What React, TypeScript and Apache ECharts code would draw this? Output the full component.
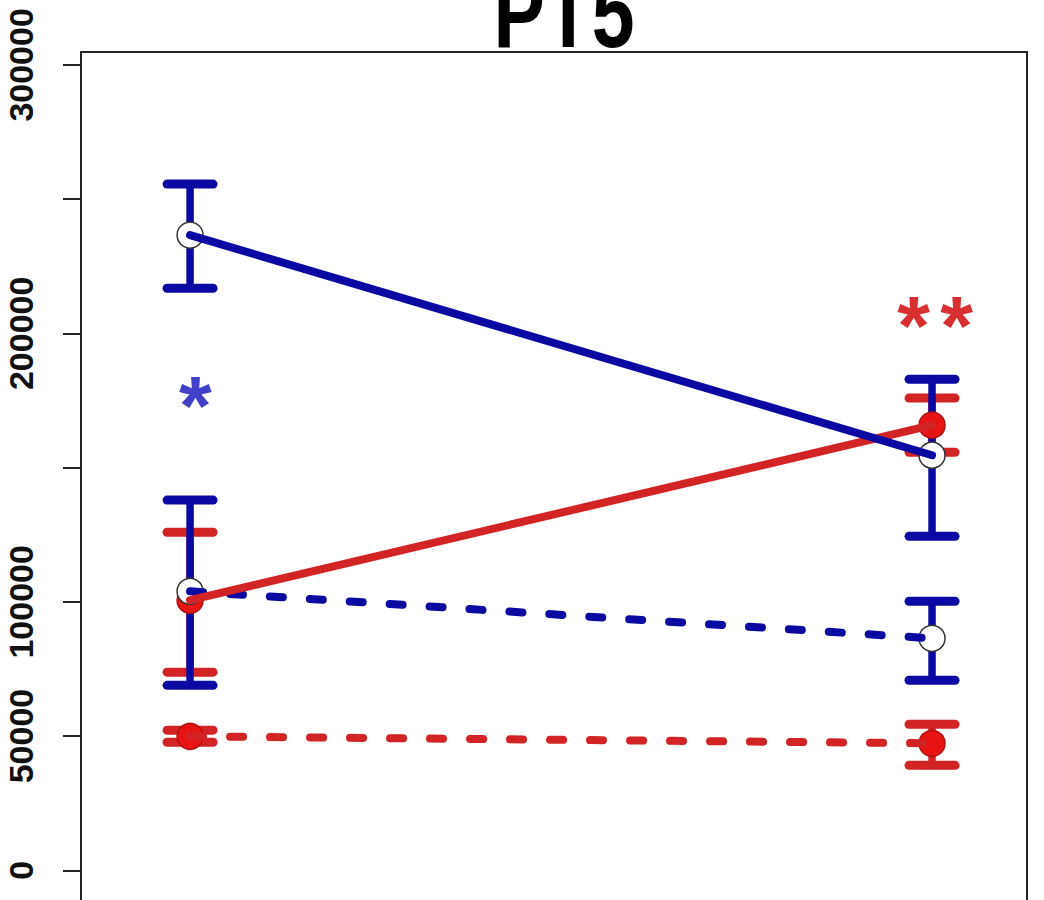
import React, { useEffect, useRef } from 'react';
import * as echarts from 'echarts';

// ---- data ----
const groups = [1, 2];
const blueSolidMean = [236600, 154600];
const blueSolidLow = [216800, 124400];
const blueSolidHigh = [255600, 182900];

const redSolidMean = [100600, 165800];
const redSolidLow = [73800, 155700];
const redSolidHigh = [125900, 175900];

const blueDashMean = [103900, 86400];
const blueDashLow = [68900, 70800];
const blueDashHigh = [137900, 100200];

const redDashMean = [49900, 47300];
const redDashLow = [47700, 39100];
const redDashHigh = [52200, 54400];

const yTicks = [0, 50000, 100000, 150000, 200000, 250000, 300000];
const yLabels = [0, 50000, 100000, 200000, 300000];
const titleText = 'PT5';

const blueStars = [[1.007, 177000]];
const redStars = [[1.975, 206800], [2.033, 206800]];

// ---- styles ----
const BLUE = '#0a0aa2';
const RED = '#d22424';
const RED_FILL = '#e81414';
const FONT = '"Liberation Sans", Arial, sans-serif';

function errSeries(low: number[], high: number[], color: string) {
  return {
    type: 'custom',
    silent: true,
    data: groups.map((g, i) => [g, low[i], high[i]]),
    encode: { x: 0, y: [1, 2] },
    renderItem: (_p: any, api: any) => {
      const x = api.value(0);
      const pLo = api.coord([x, api.value(1)]);
      const pHi = api.coord([x, api.value(2)]);
      const hw = 23;
      const st = { stroke: color, lineWidth: 7.5, lineCap: 'round' };
      const cst = { stroke: color, lineWidth: 9, lineCap: 'round' };
      return {
        type: 'group',
        children: [
          { type: 'line', shape: { x1: pLo[0], y1: pLo[1], x2: pHi[0], y2: pHi[1] }, style: st },
          { type: 'line', shape: { x1: pLo[0] - hw, y1: pLo[1], x2: pLo[0] + hw, y2: pLo[1] }, style: cst },
          { type: 'line', shape: { x1: pHi[0] - hw, y1: pHi[1], x2: pHi[0] + hw, y2: pHi[1] }, style: cst },
        ],
      };
    },
  };
}

function lineSeries(mean: number[], color: string, dashed: boolean) {
  return {
    type: 'line',
    silent: true,
    symbol: 'none',
    data: groups.map((g, i) => [g, mean[i]]),
    lineStyle: {
      color,
      width: 8,
      type: dashed ? [13, 27] : 'solid',
      cap: 'round',
    },
  };
}

function pointSeries(means: number[][], fill: string, border: string) {
  return {
    type: 'scatter',
    silent: true,
    symbol: 'circle',
    symbolSize: 26,
    data: means.flatMap((m) => groups.map((g, i) => [g, m[i]])),
    itemStyle: { color: fill, borderColor: border, borderWidth: 1.5, opacity: 1 },
  };
}

function starSeries(pts: number[][], color: string) {
  return {
    type: 'custom',
    silent: true,
    data: pts,
    encode: { x: 0, y: 1 },
    renderItem: (_p: any, api: any) => {
      const p = api.coord([api.value(0), api.value(1)]);
      const fs = 84;
      return {
        type: 'text',
        x: p[0],
        y: p[1] + fs * 0.13,
        style: {
          text: '*',
          fill: color,
          font: `bold ${fs}px ${FONT}`,
          align: 'center',
          verticalAlign: 'middle',
        },
      };
    },
  };
}

export default function App() {
  const ref = useRef<HTMLDivElement>(null);
  useEffect(() => {
    if (!ref.current) return;
    const chart = echarts.init(ref.current, undefined, { renderer: 'svg' });
    chart.setOption({
      animation: false,
      backgroundColor: '#ffffff',
      grid: {
        left: 81,
        right: 17,
        top: 52,
        bottom: -24,
        show: true,
        borderColor: '#222',
        borderWidth: 2,
        backgroundColor: 'transparent',
        containLabel: false,
        outerBoundsMode: 'none',
      },
      xAxis: {
        type: 'value',
        min: 0.853,
        max: 2.128,
        show: false,
      },
      yAxis: {
        type: 'value',
        min: -20000,
        max: 304800,
        splitLine: { show: false },
        axisLine: { show: false },
        axisTick: {
          show: true,
          length: 18,
          lineStyle: { color: '#222', width: 2 },
          customValues: yTicks,
        },
        axisLabel: {
          show: true,
          rotate: 90,
          margin: 43,
          fontSize: 34,
          fontWeight: 'bold',
          fontFamily: FONT,
          color: '#111',
          customValues: yLabels,
          formatter: (v: number) => String(v),
        },
      },
      graphic: [
        {
          type: 'text',
          x: 564,
          y: 47,
          scaleY: 1.3,
          style: {
            x: 0,
            y: -0.3465 * 77,
            text: titleText,
            font: `bold 77px ${FONT}`,
            fill: '#000',
            align: 'center',
            verticalAlign: 'middle',
          },
        },
      ],
      series: [
        errSeries(redSolidLow, redSolidHigh, RED),
        errSeries(redDashLow, redDashHigh, RED),
        errSeries(blueSolidLow, blueSolidHigh, BLUE),
        errSeries(blueDashLow, blueDashHigh, BLUE),
        lineSeries(blueDashMean, BLUE, true),
        lineSeries(redDashMean, RED, true),
        lineSeries(redSolidMean, RED, false),
        lineSeries(blueSolidMean, BLUE, false),
        pointSeries([redSolidMean, redDashMean], RED_FILL, '#b01010'),
        pointSeries([blueSolidMean, blueDashMean], '#ffffff', '#333333'),
        starSeries(blueStars, '#4040c8'),
        starSeries(redStars, '#d83030'),
      ],
    });
    return () => chart.dispose();
  }, []);
  return (
    <div
      ref={ref}
      style={{ position: 'fixed', left: 0, top: 0, width: 1044, height: 900, background: '#fff' }}
    />
  );
}
